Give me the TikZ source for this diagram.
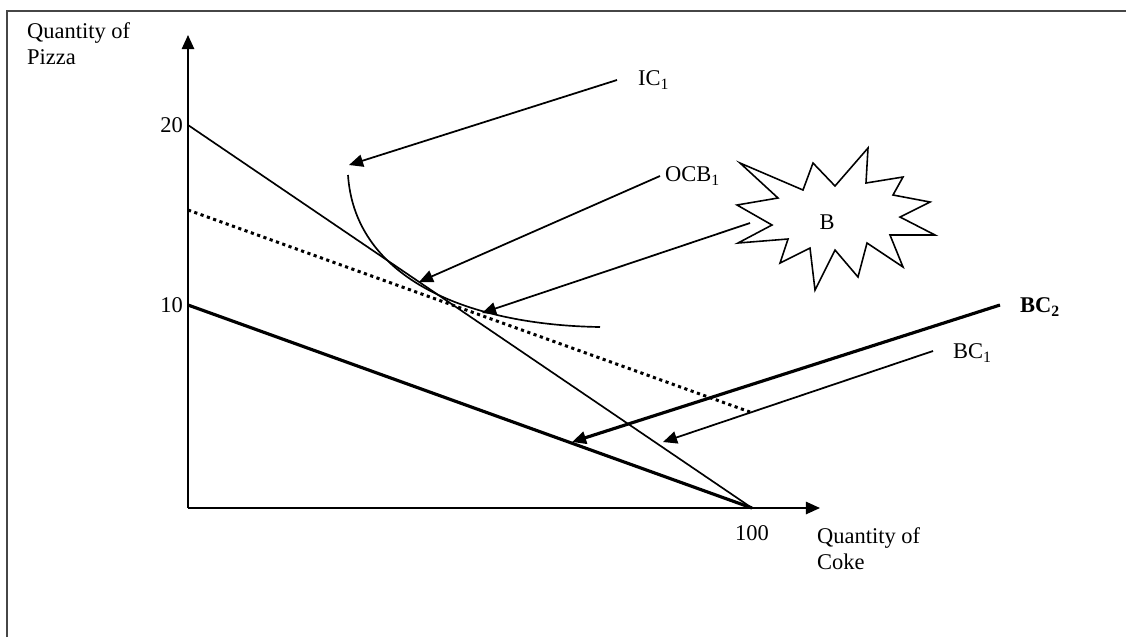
\documentclass[tikz,border=0pt]{standalone}
\usepackage{fontspec}
\setmainfont{Liberation Serif}
\usetikzlibrary{arrows.meta}
\definecolor{FrameGray}{RGB}{70,70,70}
\tikzset{
  frame/.style={draw=FrameGray,line width=1.2pt},
  axis/.style={-{Triangle[length=8pt,width=7pt]},line width=1pt},
  budget/.style={line width=0.95pt},
  boldbudget/.style={line width=1.8pt},
  dottedline/.style={line width=1.7pt,dash pattern=on 1.8pt off 2pt},
  pointer/.style={-{Triangle[length=8pt,width=7pt]},line width=1pt},
  boldpointer/.style={-{Triangle[length=8pt,width=7pt]},line width=1.8pt},
  lbl/.style={font=\fontsize{12.8}{14.5}\selectfont,inner sep=1pt},
  axlabel/.style={lbl,align=left,anchor=north west}
}

\begin{document}
\begin{tikzpicture}[x=0.02cm,y=-0.02cm]
  \useasboundingbox (0,0) rectangle (1126,637);
  \draw[frame] (7,637) -- (7,11) -- (1126,11);

  % axes
  \coordinate (O) at (188,508);
  \coordinate (ytop) at (188,35);
  \coordinate (xend) at (820,508);
  \draw[axis] (O) -- (ytop);
  \draw[axis] (O) -- (xend);
  \node[axlabel] (ylab) at (25,21) {Quantity of\\Pizza};
  \node[axlabel] (xlab) at (815,526) {Quantity of\\Coke};

  \coordinate (p20) at (188,125);
  \coordinate (p10) at (188,305);
  \coordinate (c100) at (752,508);
  \coordinate (d0) at (188,210);
  \coordinate (d1) at (750,412);
  \node[lbl,anchor=east] (t20) at (185,125) {20};
  \node[lbl,anchor=east] (t10) at (185,305) {10};
  \node[lbl] (t100) at (752,533) {100};

  % budget lines
  \draw[budget] (p20) -- (c100);
  \draw[boldbudget] (p10) -- (c100);
  \draw[dottedline] (d0) -- (d1);

  % indifference curve
  \coordinate (ic0) at (348,175);
  \coordinate (ic1) at (600,327);
  \draw[budget] (ic0) .. controls (355,280) and (470,325) .. (ic1);

  % burst
  \draw[line width=0.9pt] (740,163) -- (803,190) -- (813,163) -- (835,186)
    -- (868,148) -- (866,183) -- (903,177) -- (893,195) -- (930,202)
    -- (900,217) -- (935,235) -- (890,235) -- (903,267) -- (867,243)
    -- (858,277) -- (835,250) -- (815,290) -- (810,248) -- (780,263)
    -- (788,239) -- (738,243) -- (772,225) -- (737,205) -- (778,198) -- cycle;
  \node[lbl] (B) at (827,222) {B};

  % labels and pointers
  \node[lbl,anchor=west] (IC) at (636,80) {IC\textsubscript{1}};
  \node[lbl,anchor=west] (OCB) at (663,176) {OCB\textsubscript{1}};
  \node[lbl,anchor=west] (BC1) at (951,353) {BC\textsubscript{1}};
  \node[lbl,anchor=west] (BC2) at (1018,307) {\textbf{BC\textsubscript{2}}};

  \coordinate (icS) at (617,80);
  \coordinate (icT) at (349,165);
  \coordinate (ocbS) at (660,176);
  \coordinate (ocbT) at (419,282);
  \coordinate (bS) at (750,223);
  \coordinate (bT) at (482,313);
  \coordinate (bc1S) at (933,351);
  \coordinate (bc1T) at (663,442);
  \coordinate (bc2S) at (1000,305);
  \coordinate (bc2T) at (572,442);

  \draw[pointer] (icS) -- (icT);
  \draw[pointer] (ocbS) -- (ocbT);
  \draw[pointer] (bS) -- (bT);
  \draw[pointer] (bc1S) -- (bc1T);
  \draw[boldpointer] (bc2S) -- (bc2T);
\end{tikzpicture}
\end{document}
